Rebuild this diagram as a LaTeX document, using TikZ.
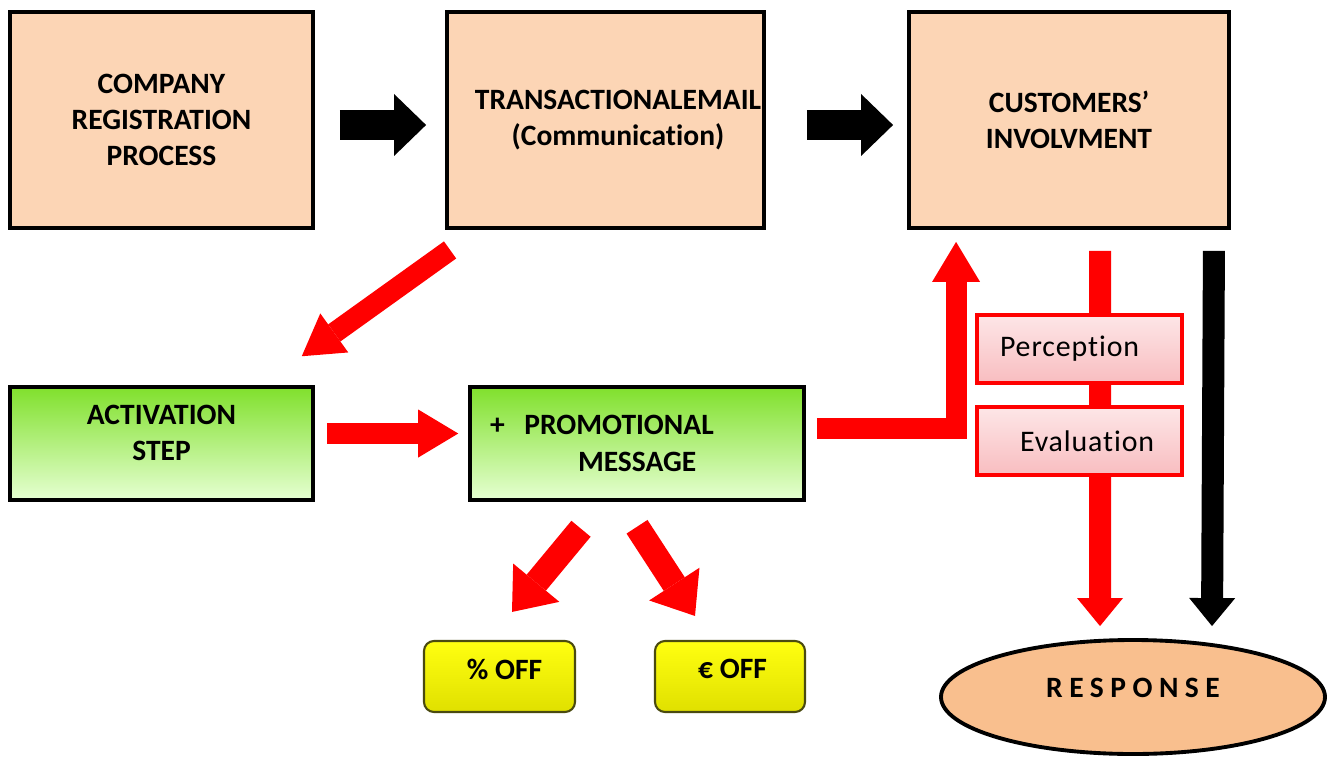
\documentclass[tikz,border=0pt]{standalone}
\usepackage{fontspec}
\setmainfont{Carlito}[Ligatures=NoCommon]
\usetikzlibrary{arrows.meta, positioning, shapes.geometric}

\definecolor{peach}{HTML}{FCD5B5}
\definecolor{respfill}{HTML}{F9BF8E}
\definecolor{greentop}{HTML}{80E02C}
\definecolor{greenbot}{HTML}{E6FFD2}
\definecolor{pinktop}{HTML}{FDE6E7}
\definecolor{pinkbot}{HTML}{F8BDC0}
\definecolor{yellowtop}{HTML}{FFFF10}
\definecolor{yellowbot}{HTML}{E0E000}
\definecolor{offerline}{HTML}{4A4A10}

\begin{document}
\begin{tikzpicture}[
      node distance=2cm, on grid,
      font=\bfseries\fontsize{16.8}{20.7}\selectfont,
      stage/.style={draw, line width=2.2pt, fill=peach, align=center, minimum height=4.32cm},
      greenbox/.style={draw, line width=2pt, top color=greentop, bottom color=greenbot, align=center, minimum height=2.26cm},
      evalbox/.style={draw=red, line width=1.8pt, top color=pinktop, bottom color=pinkbot,
        minimum width=4.10cm, minimum height=1.36cm, text width=3.18cm, align=left, inner xsep=0.46cm,
        font=\normalfont\fontsize{17}{20}\selectfont\addfontfeature{LetterSpace=3}},
      offer/.style={draw=offerline, line width=1.2pt, rounded corners=0.2cm, top color=yellowtop, bottom color=yellowbot,
        minimum width=3.02cm, minimum height=1.42cm, text depth=0.3cm},
      blackarrow/.style={draw=black, line width=0.6cm, -{Triangle[length=0.64cm, width=1.24cm, line width=0pt]}},
      redarrow/.style={draw=red, line width=0.42cm, -{Triangle[length=0.8cm, width=0.96cm, line width=0pt]}},
      downarrow/.style={line width=0.44cm, -{Triangle[length=0.56cm, width=0.92cm, line width=0pt]}},
      fatarrow/.style={draw=red, line width=0.5cm, -{Triangle[length=0.76cm, width=1.2cm, line width=0pt]}},
    ]
    \useasboundingbox (0,0) rectangle (26.62,-15.16);

    % top row
    \node[stage, minimum width=6.06cm] (reg) at (3.23,-2.40) {COMPANY\\REGISTRATION\\PROCESS};
    \node[stage, minimum width=6.34cm, inner xsep=0pt] (mail) [right=8.88cm of reg]
      {\hspace*{0.5cm}TRANSACTIONALEMAIL\\\hspace*{0.5cm}(Communication)};
    \node[stage, minimum width=6.40cm] (cust) [right=9.27cm of mail] {CUSTOMERS’\\INVOLVMENT};

    % middle row
    \node[greenbox, minimum width=6.06cm, text depth=0.43cm] (act) [below=6.47cm of reg] {ACTIVATION\\STEP};
    \node[greenbox, minimum width=6.68cm, text width=5.88cm, align=left, inner xsep=0.4cm] (promo) [right=9.51cm of act]
      {+~~PROMOTIONAL\\\hspace*{1.76cm}MESSAGE};

    % offers and response
    \node[offer] (pct) at (9.99,-13.53) {\hspace*{0.2cm}\%~OFF};
    \node[offer, minimum width=3.00cm] (eur) at (14.60,-13.53) {\hspace*{0.1cm}€~OFF};
    \node[ellipse, draw, line width=2.2pt, fill=respfill, minimum width=7.68cm, minimum height=2.28cm] (resp) at (22.66,-13.94)
      {\raisebox{0.36cm}{\addfontfeature{LetterSpace=22}RESPONSE}};

    \draw[blackarrow, shorten <=0.5cm, shorten >=0.38cm] ([yshift=-0.1cm]reg.east) -- ([yshift=-0.1cm]mail.west);
    \draw[blackarrow, shorten <=0.82cm, shorten >=0.28cm] ([yshift=-0.1cm]mail.east) -- ([yshift=-0.1cm]cust.west);
    \draw[redarrow] ([shift={(0.1,-0.4)}]mail.south west) -- ([shift={(-0.26,0.58)}]act.north east);
    \draw[redarrow, shorten <=0.24cm, shorten >=0.2cm] ([yshift=0.2cm]act.east) -- ([yshift=0.2cm]promo.west);
    \draw[redarrow, shorten <=0.22cm, shorten >=0.24cm] ([yshift=0.3cm]promo.east) -| ([xshift=0.98cm]cust.south west);
    \draw[fatarrow] ([shift={(-1.12,-0.54)}]promo.south) -- ([shift={(0.25,0.56)}]pct.north);
    \draw[fatarrow] ([yshift=-0.5cm]promo.south) -- ([shift={(-0.7,0.48)}]eur.north);
    \draw[downarrow, draw=red] ([shift={(0.62,-0.42)}]cust.south) -- ([shift={(-0.66,0.24)}]resp.north);
    \draw[downarrow, draw=black] ([shift={(-0.34,-0.42)}]cust.south east) -- ([shift={(1.58,0.24)}]resp.north);

    % stages between customers and response
    \node[evalbox] (perc) at (21.59,-6.98) {Perception};
    \node[evalbox] (eval) at (21.59,-8.82) {\hspace*{0.4cm}Evaluation};
\end{tikzpicture}
\end{document}
